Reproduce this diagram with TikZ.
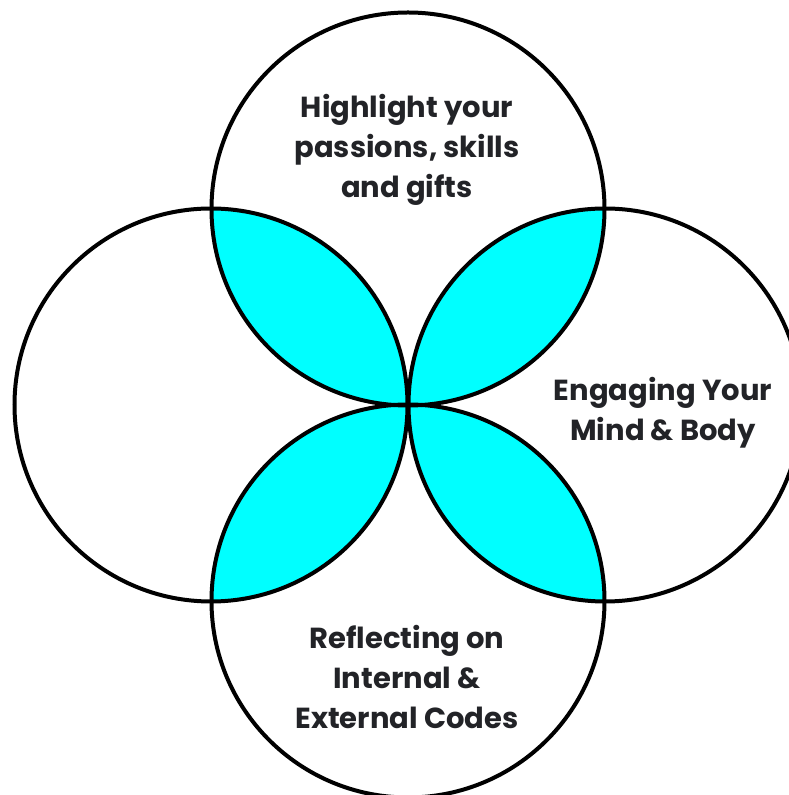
\documentclass[tikz,border=0pt]{standalone}
\usepackage{fontspec}
\setmainfont{Poppins}
\definecolor{lens}{HTML}{00FFFF}
\definecolor{ink}{HTML}{222327}
\begin{document}
\begin{tikzpicture}[x=1pt,y=1pt,
  ring/.style={draw=black,line width=4pt},
  label/.style={text=ink,font=\fontsize{29}{40}\selectfont\bfseries,align=center,inner sep=0pt}]
  \useasboundingbox[fill=white] (0,0) rectangle (789,795);
  \def\R{196.5}
  \coordinate (T) at (408,586);
  \coordinate (L) at (211,390);
  \coordinate (Rt) at (605,390);
  \coordinate (B) at (408,194);
  % cyan petals where neighbouring circles overlap
  \begin{scope}\clip (T) circle (\R); \fill[lens] (L) circle (\R); \end{scope}
  \begin{scope}\clip (T) circle (\R); \fill[lens] (Rt) circle (\R); \end{scope}
  \begin{scope}\clip (B) circle (\R); \fill[lens] (L) circle (\R); \end{scope}
  \begin{scope}\clip (B) circle (\R); \fill[lens] (Rt) circle (\R); \end{scope}
  % outlines
  \draw[ring] (T) circle (\R);
  \draw[ring] (L) circle (\R);
  \draw[ring] (Rt) circle (\R);
  \draw[ring] (B) circle (\R);
  % captions
  \node[label] (tt) at (407,645) {Highlight your\\passions, skills\\and gifts};
  \node[label] (rt) at (663,382) {Engaging Your\\Mind \& Body};
  \node[label] (bt) at (407,118) {Reflecting on\\Internal \&\\External Codes};
\end{tikzpicture}
\end{document}
